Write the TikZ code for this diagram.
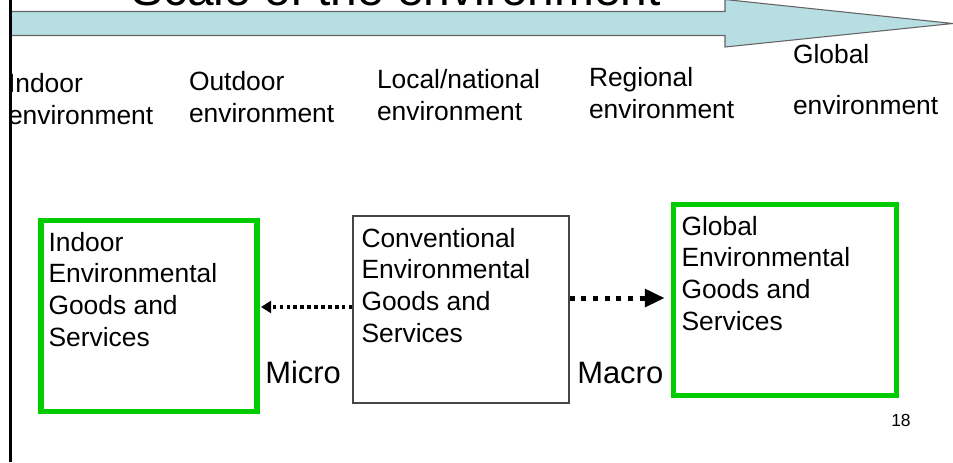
\documentclass[tikz,border=0pt]{standalone}
\usepackage{fontspec}
\setmainfont{Liberation Sans}
\usetikzlibrary{arrows.meta}
\definecolor{gboxc}{RGB}{0,204,0}
\definecolor{arrowfill}{RGB}{183,223,227}
\definecolor{arrowline}{RGB}{100,100,100}
\definecolor{boxline}{RGB}{70,70,70}
\newcommand\lblfont{\fontsize{19.8}{24}\selectfont}
\newcommand\boxfont{\fontsize{19.8}{23.8}\selectfont}
\newcommand\txt[2]{\parbox[t]{#1}{\raggedright #2}}
\tikzset{
  lbl/.style={anchor=base west, inner sep=0pt, outer sep=0pt, font=\lblfont},
  boxtxt/.style={anchor=base west, inner sep=0pt, outer sep=0pt, font=\boxfont},
  greenbox/.style={draw=gboxc, line width=4.1pt, minimum width=162pt, minimum height=143.25pt, inner sep=0pt},
  plainbox/.style={draw=boxline, line width=0.9pt, minimum width=162pt, minimum height=140.25pt, inner sep=0pt},
  dotarrow/.style={line width=2.4pt, dash pattern=on 2.6pt off 2.6pt, -{Triangle[length=7.5pt,width=9pt]}},
  dasharrow/.style={line width=3.75pt, dash pattern=on 3.75pt off 5pt, -{Triangle[length=15pt,width=13pt]}}
}
\begin{document}
\begin{tikzpicture}[x=0.75pt,y=-0.75pt]
\useasboundingbox (0,0) rectangle (953,462);
\clip (0,0) rectangle (953,462);
\fill[white] (0,0) rectangle (953,462);
% title (mostly cut off at top)
\node[anchor=base west, inner sep=0pt, font=\fontsize{35.9}{40}\selectfont] (title) at (131,5) {Scale of the environment};
% big scale arrow
\draw[fill=arrowfill, draw=arrowline, line width=0.8pt]
  (10,11.5) -- (725,11.5) -- (725,-0.5) -- (953,23.5) -- (725,47) -- (725,35.5) -- (10,35.5) -- cycle;
% left vertical rule
\draw[line width=2.3pt] (10.5,0) -- (10.5,462);
% scale labels
\node[lbl] (l1) at (8,92) {\txt{6cm}{Indoor\\environment}};
\node[lbl] (l2) at (189,90) {\txt{6cm}{Outdoor\\environment}};
\node[lbl] (l3) at (377,88) {\txt{6cm}{Local/national\\environment}};
\node[lbl] (l4) at (589,86) {\txt{6cm}{Regional\\environment}};
\node[lbl] (l5) at (793,63.5) {\txt{6cm}{Global\\[14.1pt]environment}};
% boxes
\node[greenbox] (left) at (149,316) {};
\node[plainbox] (mid) at (461,309.5) {};
\node[greenbox, minimum width=167.25pt] (right) at (785,300) {};
\node[boxtxt] (lt) at (48.5,251) {\txt{6cm}{Indoor\\Environmental\\Goods and\\Services}};
\node[boxtxt] (mt) at (361.5,247) {\txt{6cm}{Conventional\\Environmental\\Goods and\\Services}};
\node[boxtxt] (rt) at (681.5,235) {\txt{6cm}{Global\\Environmental\\Goods and\\Services}};
% connectors
\coordinate (la) at ([yshift=1.9pt]mid.west);
\coordinate (ra) at ([yshift=8.6pt]mid.east);
\draw[dotarrow, shorten >=1pt] (la) -- (la -| left.east);
\draw[dasharrow, shorten >=4.5pt] (ra) -- (ra -| right.west);
% micro / macro
\node[anchor=base west, inner sep=0pt, font=\fontsize{23.2}{26}\selectfont] (micro) at (265,383) {Micro};
\node[anchor=base west, inner sep=0pt, font=\fontsize{23.2}{26}\selectfont] (macro) at (577,383) {Macro};
% page number
\node[anchor=base west, inner sep=0pt, font=\fontsize{13.1}{15}\selectfont] (pg) at (891,426.5) {18};
\end{tikzpicture}
\end{document}
